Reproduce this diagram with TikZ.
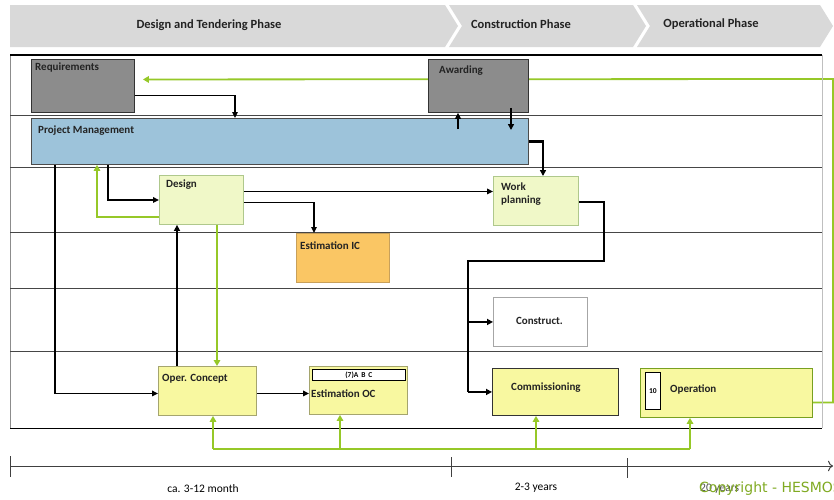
\documentclass[tikz,border=0pt]{standalone}
\usepackage{fontspec}
\setmainfont{Carlito}
\newfontfamily\dejavu{DejaVu Sans}
\usetikzlibrary{arrows.meta,calc}
\pgfdeclarelayer{back}
\pgfdeclarelayer{mid}
\pgfsetlayers{back,mid,main}
\definecolor{bannergray}{RGB}{217,217,217}
\definecolor{grn}{RGB}{150,200,40}
\definecolor{pmblue}{RGB}{157,195,218}
\definecolor{boxgray}{RGB}{140,140,140}
\definecolor{lgfill}{RGB}{240,248,200}
\definecolor{lgdraw}{RGB}{175,200,140}
\definecolor{orfill}{RGB}{250,198,100}
\definecolor{ordraw}{RGB}{200,160,90}
\definecolor{yfill}{RGB}{248,248,160}
\definecolor{ydraw}{RGB}{165,165,110}
\definecolor{lanecol}{RGB}{70,70,70}
\definecolor{txtcol}{RGB}{35,35,35}
\begin{document}
\begin{tikzpicture}[x=1pt,y=-1pt,
  phase/.style={font=\fontsize{12.5}{14}\selectfont\bfseries, text=txtcol},
  box/.style={rectangle, draw, inner sep=0pt, anchor=north west, line width=0.9pt},
  lbl/.style={font=\fontsize{11}{12.5}\selectfont\bfseries, text=txtcol, anchor=west, inner sep=0pt},
  small/.style={font=\fontsize{7.5}{8}\selectfont\bfseries, text=black, inner sep=0pt},
  lane/.style={draw=lanecol, line width=0.8pt},
  blk/.style={draw=black, line width=1.4pt, -{Triangle[length=6pt,width=5.5pt]}},
  thk/.style={draw=black, line width=2.4pt, -{Triangle[length=6pt,width=6pt]}},
  grnline/.style={draw=grn, line width=1.8pt},
  grna/.style={grnline, -{Triangle[length=6pt,width=6.5pt]}},
  tl/.style={draw=black!75, line width=1pt},
  tltxt/.style={font=\fontsize{11.5}{13}\selectfont, text=black}
]
\useasboundingbox (0,0) rectangle (834,499);
\begin{pgfonlayer}{back}
\fill[white] (0,0) rectangle (834,499);
\end{pgfonlayer}

% phase banner
\fill[bannergray] (10,5) -- (445,5) -- (458,26) -- (445,47) -- (10,47) -- cycle;
\fill[bannergray] (449,5) -- (633,5) -- (646,26) -- (633,47) -- (449,47) -- (462,26) -- cycle;
\fill[bannergray] (637,5) -- (820,5) -- (833,26) -- (820,47) -- (637,47) -- (650,26) -- cycle;
\node[phase] (ph1) at (209,25) {Design and Tendering Phase};
\node[phase] (ph2) at (521,24) {Construction Phase};
\node[phase] (ph3) at (711,24) {Operational Phase};

% lanes
\draw[draw=black!45, line width=1pt] (10,55) -- (10,428);
\draw[draw=black!25, line width=1pt] (822,55) -- (822,428);
\draw[draw=black, line width=1.2pt] (10,55) -- (822,55);
\draw[lane] (10,115) -- (822,115);
\draw[lane] (10,167) -- (822,167);
\draw[lane] (10,232) -- (822,232);
\draw[lane] (10,288) -- (822,288);
\draw[lane] (10,351) -- (822,351);
\draw[draw=black, line width=0.9pt] (10,428) -- (822,428);

% boxes
\node[box, fill=boxgray, draw=black!80, minimum width=103pt, minimum height=53pt] (req) at (31,59) {};
\node[box, fill=pmblue, draw=black!70, minimum width=497pt, minimum height=46pt] (pm) at (31,118) {};
\node[box, fill=boxgray, draw=black!80, minimum width=100pt, minimum height=53pt] (awd) at (428,59) {};
\node[box, fill=lgfill, draw=lgdraw, minimum width=84pt, minimum height=49pt] (des) at (159,175) {};
\node[box, fill=lgfill, draw=lgdraw, minimum width=85pt, minimum height=49pt] (wp) at (493,176) {};
\node[box, fill=orfill, draw=ordraw, minimum width=93pt, minimum height=49pt] (eic) at (296,233) {};
\node[box, fill=white, draw=black!35, minimum width=94pt, minimum height=49pt] (con) at (493,297) {};
\node[box, fill=yfill, draw=ydraw, minimum width=98pt, minimum height=49pt] (opc) at (158,366) {};
\node[box, fill=yfill, draw=ydraw, minimum width=98pt, minimum height=48pt] (eoc) at (309,366) {};
\node[box, fill=white, draw=black, line width=0.8pt, minimum width=93pt, minimum height=11pt] (abc) at (312,369) {};
\node[small] (abct) at (abc.center) {(7)A\, B\, C};
\node[box, fill=yfill, draw=black!80, minimum width=126pt, minimum height=47pt] (com) at (492,368) {};
\node[box, fill=yfill, draw=grn!80!black, minimum width=172pt, minimum height=49pt] (opr) at (640,368) {};
\node[box, fill=white, draw=black, line width=0.8pt, minimum width=15pt, minimum height=37pt] (ten) at (645,372) {};
\node[small] (tent) at (ten.center) {10};

% labels
\node[lbl] (reqt) at ($(req.north west)+(4,9)$) {Requirements};
\node[lbl] (pmt) at ($(pm.north west)+(7,13)$) {Project Management};
\node[lbl] (awdt) at ($(awd.north west)+(11,12)$) {Awarding};
\node[lbl] (dest) at ($(des.north west)+(7,10)$) {Design};
\node[lbl, align=left, anchor=north west] (wpt) at ($(wp.north west)+(8,7)$) {Work\\planning};
\node[lbl] (eict) at ($(eic.north west)+(4,13)$) {Estimation IC};
\node[lbl, anchor=center] (cont) at ($(con.center)+(-1,-1)$) {Construct.};
\node[lbl] (opct) at ($(opc.north west)+(4,13)$) {Oper. Concept};
\node[lbl] (eoct) at ($(eoc.north west)+(2,28)$) {Estimation OC};
\node[lbl] (comt) at ($(com.north west)+(19,20)$) {Commissioning};
\node[lbl] (oprt) at ($(opr.north west)+(30,21)$) {Operation};

% green feedback loop, behind the boxes
\coordinate (gr) at (833,79);
\begin{pgfonlayer}{mid}
\draw[grna] ([yshift=-9.5pt]opr.east) -| (gr) -- ([xshift=8pt,yshift=6.5pt]req.east);
\end{pgfonlayer}

% black connectors
\draw[blk] ([yshift=-9.5pt]req.east) -| ([xshift=204pt]pm.north west);
\draw[thk] ([xshift=427pt,yshift=-11pt]pm.north west) -- ([xshift=30pt]awd.south west);
\draw[thk] ([xshift=83pt,yshift=5pt]awd.south west) -- ([xshift=480pt,yshift=-12pt]pm.north west);
\draw[thk] (pm.east) -| ([xshift=50pt]wp.north west);
\draw[blk] ([xshift=77pt]pm.south west) |- (des.west);
\draw[blk] ([yshift=8.5pt]des.east) -- ([yshift=9.5pt]wp.west);
\draw[blk] ([yshift=-2.5pt]des.east) -| ([xshift=18pt]eic.north west);
\draw[blk] ([xshift=24pt]pm.south west) |- ([yshift=-2.5pt]opc.west);
\draw[thk] ([xshift=19pt]opc.north west) -- ([xshift=18pt]des.south west);
\draw[blk] ([yshift=-2.5pt]opc.east) -- ([yshift=-3pt]eoc.west);
\draw[thk, -] ([yshift=-1pt]wp.east) -- ++(25,0) -- ++(0,59) -- ++(-136,0) coordinate (jt) -- (jt |- com.west);
\draw[thk] (jt |- com.west) -- (com.west);
\draw[thk] (jt |- con.west) -- (con.west);

% green connectors
\draw[grna] ([yshift=-17pt]des.west) -| ([xshift=66pt]pm.south west);
\draw[grna] ([xshift=58pt]des.south west) -- ([xshift=59pt]opc.north west);
\draw[grnline] ([xshift=55pt,yshift=-33pt]opc.south west) -- ([xshift=50pt,yshift=-31pt]opr.south west);
\draw[grna] ([xshift=55pt,yshift=-33pt]opc.south west) -- ([xshift=55pt]opc.south west);
\draw[grna] ([xshift=31pt,yshift=-34pt]eoc.south west) -- ([xshift=31pt]eoc.south west);
\draw[grna] ([xshift=44pt,yshift=-33pt]com.south west) -- ([xshift=44pt]com.south west);
\draw[grna] ([xshift=50pt,yshift=-31pt]opr.south west) -- ([xshift=50pt]opr.south west);

% timeline
\draw[tl, -{To[length=5pt]}] (10,466) -- (833,466);
\draw[tl] (10,456) -- (10,477);
\draw[tl] (451,457) -- (451,477);
\draw[tl] (627,458) -- (627,478);
\node[tltxt] (t1) at (203,489) {ca. 3-12 month};
\node[tltxt] (t2) at (536,488) {2-3 years};
\node[tltxt, anchor=west, text=black!70, inner sep=0pt] (t3) at (700,489) {20 years};
\node[font=\dejavu\fontsize{14}{15}\selectfont, text=grn!85!black, anchor=west, inner sep=0pt] (cp) at (699,489) {Copyright - HESMOS};
\end{tikzpicture}
\end{document}
